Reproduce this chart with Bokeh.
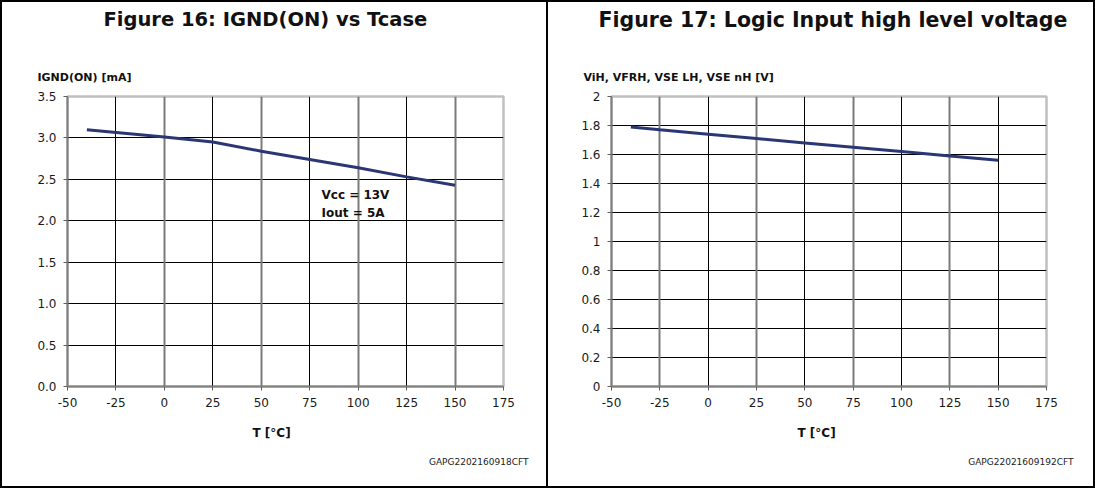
from bokeh.plotting import figure
from bokeh.layouts import row
from bokeh.models import (Range1d, FixedTicker, CustomJSTickFormatter, Grid, Label,
                          Title, InlineStyleSheet)
from bokeh.embed import file_html
from bokeh.resources import INLINE

# ---------------- data ----------------
t16 = [-40, 0, 25, 50, 75, 100, 125, 150]
ignd = [3.10, 3.01, 2.95, 2.84, 2.74, 2.64, 2.53, 2.43]

t17 = [-40, -25, 0, 25, 50, 75, 100, 125, 150]
vih = [1.79, 1.77, 1.74, 1.71, 1.68, 1.65, 1.62, 1.59, 1.56]

x_ticks = [-50, -25, 0, 25, 50, 75, 100, 125, 150, 175]
y16_ticks = [0.0, 0.5, 1.0, 1.5, 2.0, 2.5, 3.0, 3.5]
y17_ticks = [0, 0.2, 0.4, 0.6, 0.8, 1.0, 1.2, 1.4, 1.6, 1.8, 2.0]

title16 = "Figure 16: IGND(ON) vs Tcase"
title17 = "Figure 17: Logic Input high level voltage"
ylab16 = "IGND(ON) [mA]"
ylab17 = "ViH, VFRH, VSE LH, VSE nH [V]"
xlab = "T [°C]"
code16 = "GAPG2202160918CFT"
code17 = "GAPG22021609192CFT"
note16 = ["Vcc = 13V", "Iout = 5A"]

FONT = "DejaVu Sans"
LINE_COLOR = "#2b3775"
H = 488


def make_panel(W, ml, mr, mt, mb, ymax, yticks, grey_ticks, black_ticks, yfmt, border_css):
    p = figure(width=W, height=H, output_backend="svg", toolbar_location=None,
               x_range=Range1d(-50, 175), y_range=Range1d(0, ymax),
               min_border_left=ml, min_border_right=mr,
               min_border_top=mt, min_border_bottom=mb,
               stylesheets=[InlineStyleSheet(css=border_css)])
    p.background_fill_color = "white"
    p.border_fill_color = None
    p.outline_line_color = "#c0c0c0"
    p.outline_line_width = 2.5
    p.xgrid.visible = False
    p.ygrid.ticker = FixedTicker(ticks=yticks)
    p.ygrid.grid_line_color = "black"
    p.ygrid.grid_line_width = 1
    p.add_layout(Grid(dimension=0, ticker=FixedTicker(ticks=grey_ticks),
                      grid_line_color="#7a7a7a", grid_line_width=2))
    p.add_layout(Grid(dimension=0, ticker=FixedTicker(ticks=black_ticks),
                      grid_line_color="black", grid_line_width=1))
    for ax in (p.xaxis[0], p.yaxis[0]):
        ax.axis_line_color = "#808080"
        ax.axis_line_width = 2
        ax.major_tick_line_color = "#606060"
        ax.major_tick_line_width = 1
        ax.major_tick_in = 0
        ax.major_tick_out = 4
        ax.minor_tick_line_color = None
        ax.major_label_text_font = FONT
        ax.major_label_text_font_size = "12px"
        ax.major_label_text_color = "#1a1a1a"
    p.xaxis.major_label_standoff = 7
    p.yaxis.major_label_standoff = 7
    p.xaxis.ticker = FixedTicker(ticks=x_ticks)
    p.yaxis.ticker = FixedTicker(ticks=yticks)
    p.xaxis.formatter = CustomJSTickFormatter(code="return tick.toFixed(0);")
    p.yaxis.formatter = CustomJSTickFormatter(code=yfmt)
    return p


def add_title(p, side, text, size, standoff, align="left", offset=0, bold=True,
              color="#111111"):
    p.add_layout(Title(text=text, text_font=FONT, text_font_size=size,
                       text_font_style="bold" if bold else "normal",
                       text_color=color, align=align, offset=offset,
                       standoff=standoff, vertical_align="middle"), side)


def put_text(p, px, py, text, size, bold=False, align="left", color="#111111"):
    """px, py: canvas pixel position (from the top-left corner)."""
    p.add_layout(Label(x=px, y=py, x_units="canvas", y_units="canvas",
                       text=text, text_font=FONT, text_font_size=size,
                       text_font_style="bold" if bold else "normal",
                       text_align=align, text_baseline="middle", text_color=color))


def decorate(p, ylab, ylab_offset, title, title_size, title_standoff, title_offset,
             xlab_offset, code, code_offset):
    # above: stacked from the frame outwards (first added = nearest the frame)
    add_title(p, "above", ylab, "11px", 23, align="left", offset=ylab_offset)
    add_title(p, "above", " ", "1px", 20, align="left", offset=0)
    add_title(p, "above", title, title_size, title_standoff, align="left", offset=title_offset)
    # below: axis title, then the code line
    add_title(p, "below", xlab, "12px", 30, align="left", offset=xlab_offset)
    add_title(p, "below", code, "9px", 0, align="right", offset=code_offset,
              bold=False, color="#222222")


# ---------------- Figure 16 ----------------
W1 = 548
ml1, mr1, mt1, mb1 = 67, 45, 95, 101
css1 = ":host { box-shadow: inset 2px 2px 0 0 #000, inset -2px -2px 0 0 #000; }"
p1 = make_panel(W1, ml1, mr1, mt1, mb1, 3.5, y16_ticks,
                [0, 50, 100, 150], [-25, 25, 75, 125],
                "return tick.toFixed(1);", css1)
p1.line(t16, ignd, line_color=LINE_COLOR, line_width=3)
decorate(p1, ylab16, 37 - ml1, title16, "19.5px", 7, 103 - ml1,
         252 - ml1, code16, 503 - 528)
put_text(p1, 321, 194, note16[0], "12px", bold=True)
put_text(p1, 321, 212, note16[1], "12px", bold=True)

# ---------------- Figure 17 ----------------
W2 = 547
ml2, mr2, mt2, mb2 = 63, 49, 96, 102
css2 = ":host { box-shadow: inset 0 2px 0 0 #000, inset -2px -2px 0 0 #000; }"
p2 = make_panel(W2, ml2, mr2, mt2, mb2, 2.0, y17_ticks,
                [-25, 25, 75, 125], [0, 50, 100, 150],
                "return String(Math.round(tick*10)/10);", css2)
p2.line(t17, vih, line_color=LINE_COLOR, line_width=3)
decorate(p2, ylab17, 35 - ml2, title17, "20.5px", 6, 50 - ml2,
         249 - ml2, code17, 498 - 525)

layout = row(p1, p2)
open("out.html", "w").write(file_html(layout, INLINE))
